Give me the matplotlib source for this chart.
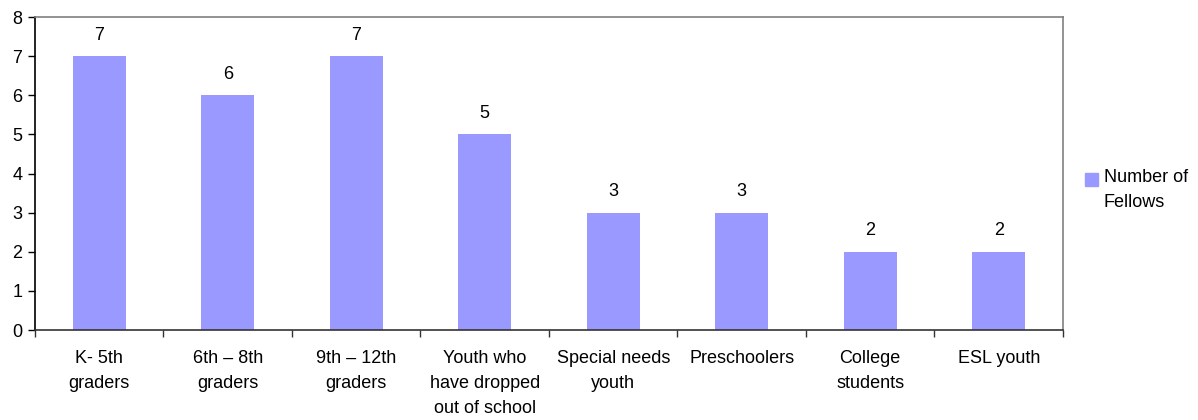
import matplotlib.pyplot as plt
from matplotlib.patches import Rectangle
import numpy as np

plt.rcParams['font.family'] = ['Liberation Sans', 'DejaVu Sans']

categories = ['K- 5th\ngraders', '6th \u2013 8th\ngraders', '9th \u2013 12th\ngraders',
              'Youth who\nhave dropped\nout of school', 'Special needs\nyouth',
              'Preschoolers', 'College\nstudents', 'ESL youth']
fellows = [7, 6, 7, 5, 3, 3, 2, 2]
series_label = 'Number of\nFellows'

bar_color = '#9999FF'
fs = 13

fig = plt.figure(figsize=(11.98, 4.2), dpi=100)
ax = fig.add_axes([0.0292, 0.214, 0.8581, 0.7455])

x = np.arange(len(categories))
bars = ax.bar(x, fellows, width=0.41, color=bar_color, label=series_label, zorder=2)

# value labels above each bar
for rect, v in zip(bars, fellows):
    ax.annotate(str(v), (rect.get_x() + rect.get_width() / 2, v),
                xytext=(0, 9), textcoords='offset points',
                ha='center', va='bottom', fontsize=fs)

ax.set_xlim(-0.5, len(categories) - 0.5)
ax.set_ylim(0, 8)
ax.set_yticks(range(0, 9))
ax.tick_params(axis='y', labelsize=fs, length=5, width=1, pad=4)

# labels at bar centres, tick marks at category boundaries
ax.set_xticks(x)
ax.set_xticklabels(categories, fontsize=fs, linespacing=1.62)
ax.tick_params(axis='x', which='major', length=0, pad=14)
ax.set_xticks(np.arange(-0.5, len(categories)), minor=True)
ax.tick_params(axis='x', which='minor', length=5, width=1, color='#333333')

ax.spines['left'].set_color('black')
ax.spines['bottom'].set_color('#333333')
ax.spines['top'].set_color('#808080')
ax.spines['right'].set_color('#808080')
for s in ax.spines.values():
    s.set_linewidth(1.2)

# legend: swatch next to the first line of the label
fig.patches.append(Rectangle((0.9057, 0.557), 0.0109, 0.031, color=bar_color,
                             transform=fig.transFigure, figure=fig))
fig.text(0.9215, 0.598, series_label, fontsize=fs, va='top', ha='left',
         linespacing=1.62)

fig.savefig('out.png', dpi=100)
